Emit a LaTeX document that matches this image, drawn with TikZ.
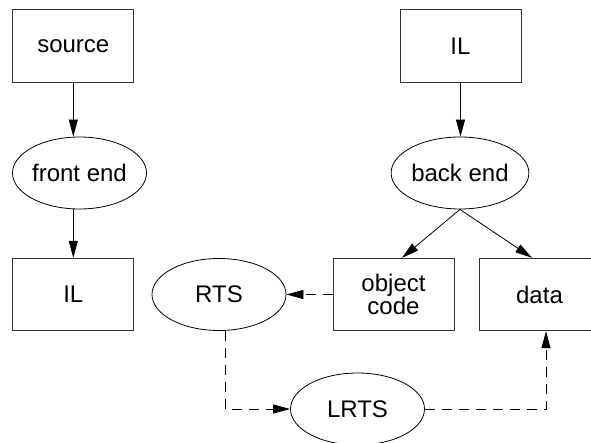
\documentclass[tikz,border=0pt]{standalone}
\usepackage{fontspec}
\setmainfont{Liberation Sans}
\usetikzlibrary{shapes.geometric,arrows.meta,calc}
\begin{document}
\begin{tikzpicture}[x=1pt,y=-1pt,
  box/.style={draw=black!80,line width=0.8pt,rectangle,minimum width=121pt,minimum height=72.5pt,inner sep=0pt,font=\fontsize{24}{23.5}\selectfont,align=center},
  oval/.style={draw=black,line width=0.8pt,ellipse,minimum width=134pt,minimum height=72pt,inner sep=0pt,font=\fontsize{24}{23.5}\selectfont},
  conn/.style={line width=0.8pt,-{Triangle[length=17pt,width=9pt]}},
  dconn/.style={conn,dash pattern=on 10pt off 7pt}]
\clip (0,0) rectangle (591,443);
\useasboundingbox (0,0) rectangle (591,443);
\node[box] (source) at (73.3,46) {source};
\node[oval] (fe) at (79.5,173) {front end};
\node[box] (ILl) at (73.3,294.5) {IL};
\node[oval] (RTS) at (219,294.5) {RTS};
\node[box] (obj) at (393.5,294.5) {object\\code};
\node[box] (data) at (539.5,294.5) {data};
\node[box] (ILr) at (460.5,46) {IL};
\node[oval] (be) at (460,173) {back end};
\node[oval] (LRTS) at (357.5,409) {LRTS};
\coordinate (objin) at ($(obj.north)+(8.5,0)$);
\coordinate (datain) at ($(data.north)+(-7.5,0)$);
\coordinate (rtsout) at ($(RTS.south)+(6,0)$);
\coordinate (datain2) at ($(data.south)+(6.5,0)$);
\draw[conn] (source.south) -- (source.south |- fe.north);
\draw[conn] (source.south |- fe.south) -- (ILl.north);
\draw[conn] (ILr.south) -- (ILr.south |- be.north);
\draw[conn] (be.south) -- (objin);
\draw[conn] (be.south) -- (datain);
\draw[dconn] (obj.west) -- (RTS.east);
\draw[dconn] (rtsout) |- (LRTS.west);
\draw[dconn] (LRTS.east) -| (datain2);
\end{tikzpicture}
\end{document}
